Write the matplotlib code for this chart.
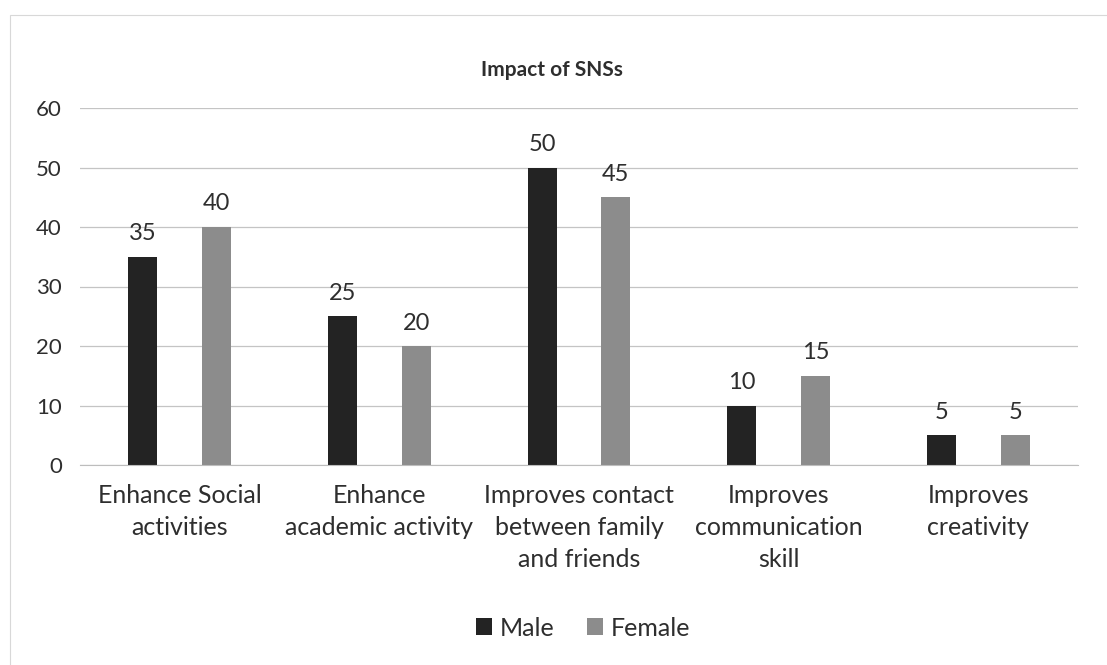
import numpy as np
import matplotlib.pyplot as plt
from matplotlib.patches import Rectangle

# survey results: impact of social networking sites, by gender
categories = ["Enhance Social\nactivities",
              "Enhance\nacademic activity",
              "Improves contact\nbetween family\nand friends",
              "Improves\ncommunication\nskill",
              "Improves\ncreativity"]
male = [35, 25, 50, 10, 5]
female = [40, 20, 45, 15, 5]

plt.rcParams['font.family'] = ['Lato', 'DejaVu Sans']
text_col = '#2e2e2e'

fig = plt.figure(figsize=(11.07, 6.65), dpi=100)
ax = fig.add_axes([80 / 1107, 1 - 465 / 665, 998 / 1107, 357 / 665])

x = np.arange(len(categories))
w = 0.145
b1 = ax.bar(x - 0.185, male, w, color='#232323', label='Male')
b2 = ax.bar(x + 0.185, female, w, color='#8c8c8c', label='Female')

ax.bar_label(b1, padding=9, fontsize=17, color=text_col)
ax.bar_label(b2, padding=9, fontsize=17, color=text_col)

ax.set_xlim(-0.5, len(categories) - 0.5)
ax.set_ylim(0, 60)
ax.set_yticks(range(0, 61, 10))
ax.set_xticks(x)
ax.set_xticklabels(categories, fontsize=18, color=text_col, linespacing=1.45)
ax.tick_params(axis='y', labelsize=16, labelcolor=text_col, length=0, pad=13)
ax.tick_params(axis='x', length=0, pad=14)

ax.yaxis.grid(True, color='#c4c4c4', linewidth=0.9)
ax.set_axisbelow(True)
for s in ['top', 'right', 'left']:
    ax.spines[s].set_visible(False)
ax.spines['bottom'].set_color('#bdbdbd')

fig.text(552 / 1107, 1 - 70 / 665, "Impact of SNSs", ha='center', va='center',
         fontsize=15, fontweight='bold', color=text_col)

fig.legend(loc='center', bbox_to_anchor=(583 / 1107, 1 - 628 / 665), ncol=2,
           frameon=False, fontsize=18, handlelength=0.65, handleheight=0.65,
           handletextpad=0.3, columnspacing=1.3, labelcolor=text_col)

# faint chart frame
fig.patches.append(Rectangle((10 / 1107, -0.02), 1.05, 1 - 15 / 665 + 0.02,
                             transform=fig.transFigure, fill=False,
                             edgecolor='#d8d8d8', linewidth=0.8))

fig.savefig('out.png', dpi=100)
